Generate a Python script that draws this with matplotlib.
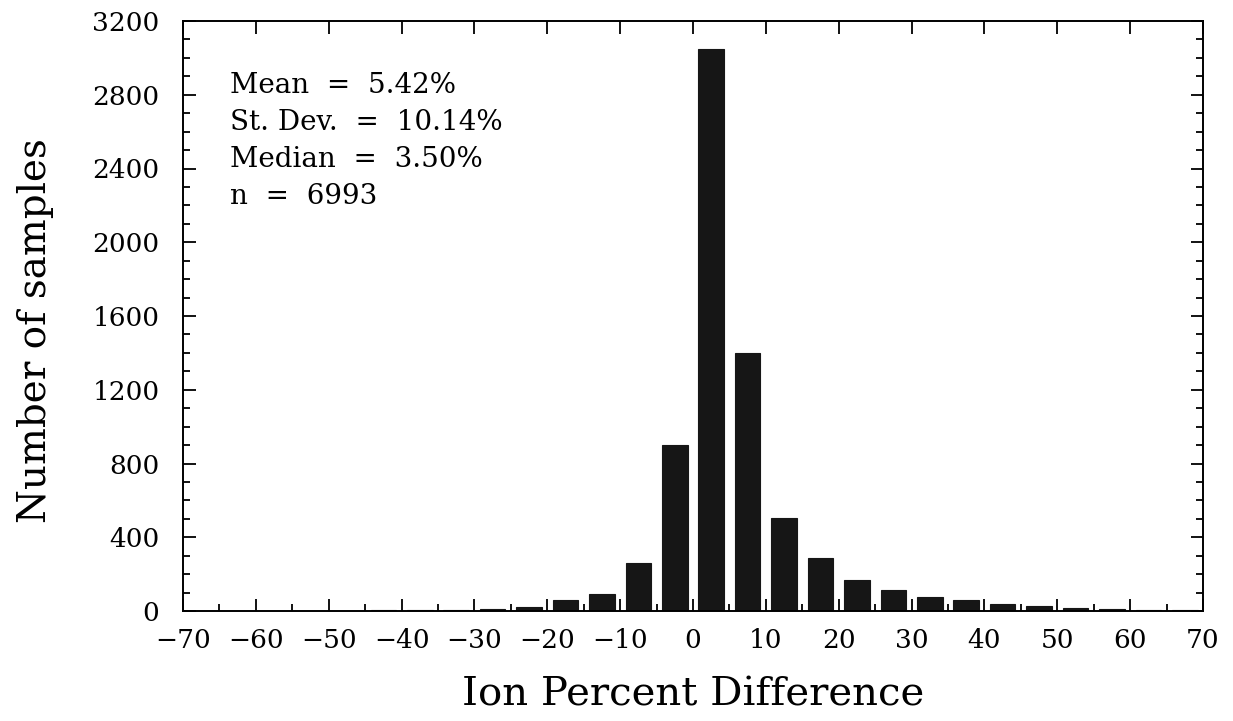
import numpy as np
import matplotlib
matplotlib.use("Agg")
import matplotlib.pyplot as plt
from matplotlib.ticker import MultipleLocator

plt.rcParams['font.family'] = ['DejaVu Serif']

#
# Histogram: 5 % bins from -70 to 70
#
bin_centres = [-67.5, -62.5, -57.5, -52.5, -47.5, -42.5, -37.5, -32.5, -27.5,
               -22.5, -17.5, -12.5, -7.5, -2.5, 2.5, 7.5, 12.5, 17.5, 22.5,
               27.5, 32.5, 37.5, 42.5, 47.5, 52.5, 57.5, 62.5, 67.5]
counts = [0, 1, 1, 1, 2, 3, 4, 5, 9,
          22, 62, 93, 262, 900, 3050, 1400, 505, 287, 170,
          112, 75, 62, 40, 28, 16, 10, 7, 6]

stats_lines = ["Mean  =  5.42%", "St. Dev.  =  10.14%", "Median  =  3.50%", "n  =  6993"]

fig = plt.figure(figsize=(12.33, 7.21), dpi=100)
ax = fig.add_axes([183/1233, 1-611/721, (1203-183)/1233, (611-21)/721])

ax.bar(bin_centres, counts, width=3.5, color="#161616", edgecolor="#161616", linewidth=0.8)

ax.set_xlim(-70, 70)
ax.set_ylim(0, 3200)
ax.xaxis.set_major_locator(MultipleLocator(10))
ax.xaxis.set_minor_locator(MultipleLocator(5))
ax.yaxis.set_major_locator(MultipleLocator(400))
ax.yaxis.set_minor_locator(MultipleLocator(100))

ax.tick_params(which='both', direction='in', top=True, right=True, width=1.3, labelsize=19)
ax.tick_params(which='major', length=9)
ax.tick_params(which='minor', length=5)
ax.tick_params(axis='x', which='major', pad=12)
ax.tick_params(axis='y', which='major', pad=17)
ax.tick_params(axis='x', which='minor', top=False)
for s in ax.spines.values():
    s.set_linewidth(1.4)

ax.set_xlabel("Ion Percent Difference", fontsize=29, labelpad=17)
ax.set_ylabel("Number of samples", fontsize=28)
ax.yaxis.set_label_coords(-0.126, 0.476)

# stats block, baselines ~37 px apart
for i, line in enumerate(stats_lines):
    ax.text(0.046, 0.878 - i*0.063, line, transform=ax.transAxes, fontsize=20,
            va='baseline', ha='left')

fig.savefig("out.png", dpi=100)
